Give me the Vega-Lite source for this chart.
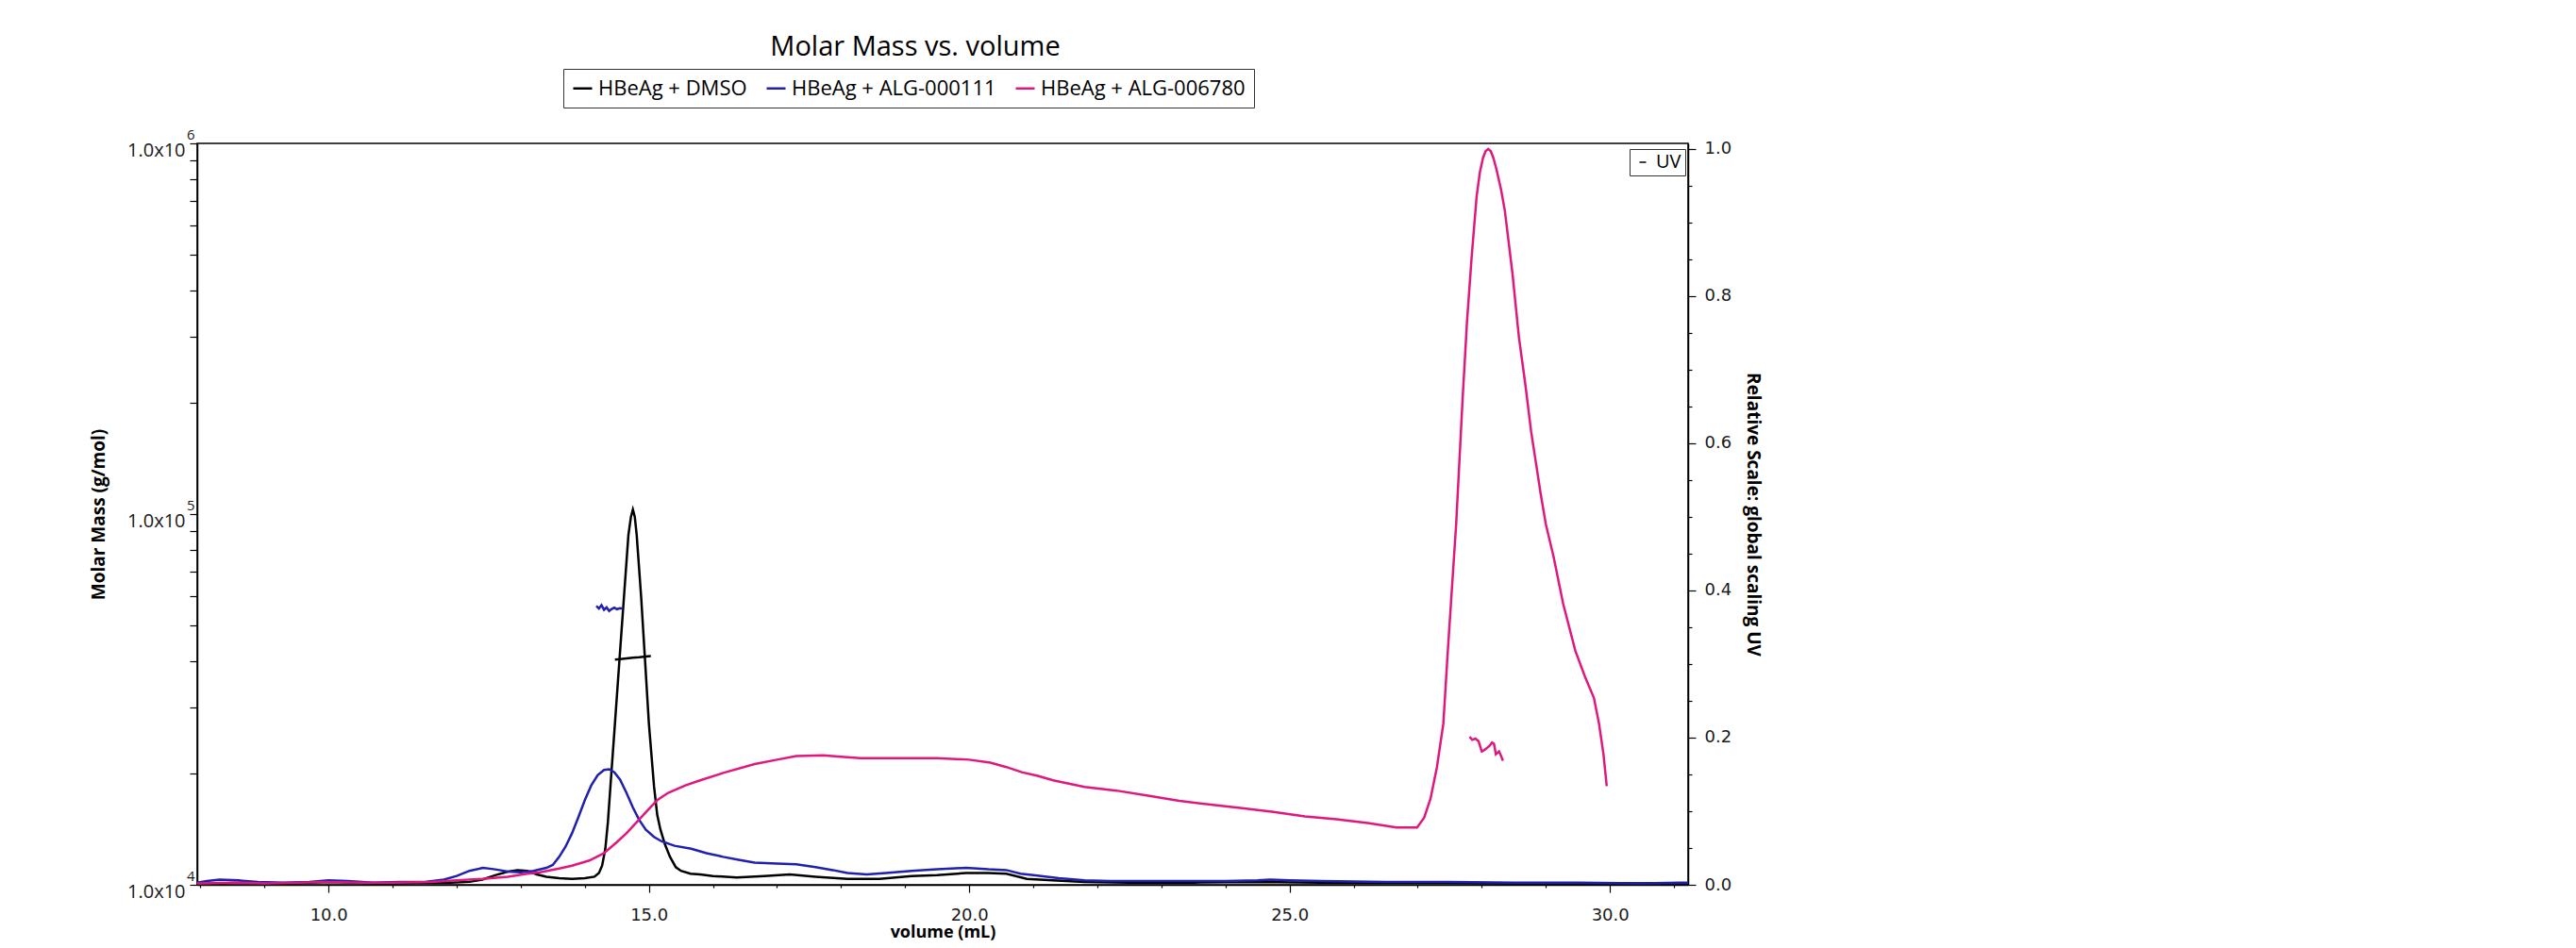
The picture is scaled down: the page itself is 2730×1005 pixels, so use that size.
{
  "$schema": "https://vega.github.io/schema/vega-lite/v6.json",
  "width": 1580,
  "height": 786,
  "autosize": {"type": "none"},
  "padding": {"left": 209, "top": 152, "right": 941, "bottom": 67},
  "background": "white",
  "config": {
    "view": {"stroke": "black", "strokeWidth": 1.5},
    "axis": {"grid": false, "domainColor": "black", "tickColor": "black", "labelColor": "#1a1a1a", "titleColor": "black", "domainWidth": 1.5, "tickWidth": 1.2}
  },
  "title": {"text": "Molar Mass vs. volume", "font": "Open Sans", "fontSize": 29, "fontWeight": "normal", "color": "black", "anchor": "middle", "frame": "group", "dx": -29, "offset": 8},
  "datasets": {
    "uv": [
      {"s": "HBeAg + DMSO", "v": 7.95, "u": 0.003}, {"s": "HBeAg + DMSO", "v": 8.3, "u": 0.002}, {"s": "HBeAg + DMSO", "v": 8.7, "u": 0.003}, {"s": "HBeAg + DMSO", "v": 9.2, "u": 0.002}, {"s": "HBeAg + DMSO", "v": 9.7, "u": 0.003}, {"s": "HBeAg + DMSO", "v": 10.0, "u": 0.004}, {"s": "HBeAg + DMSO", "v": 10.4, "u": 0.003}, {"s": "HBeAg + DMSO", "v": 10.9, "u": 0.002}, {"s": "HBeAg + DMSO", "v": 11.4, "u": 0.003}, {"s": "HBeAg + DMSO", "v": 11.9, "u": 0.003}, {"s": "HBeAg + DMSO", "v": 12.2, "u": 0.004}, {"s": "HBeAg + DMSO", "v": 12.4, "u": 0.007}, {"s": "HBeAg + DMSO", "v": 12.6, "u": 0.013}, {"s": "HBeAg + DMSO", "v": 12.8, "u": 0.018}, {"s": "HBeAg + DMSO", "v": 12.95, "u": 0.02}, {"s": "HBeAg + DMSO", "v": 13.1, "u": 0.019}, {"s": "HBeAg + DMSO", "v": 13.25, "u": 0.014}, {"s": "HBeAg + DMSO", "v": 13.4, "u": 0.011}, {"s": "HBeAg + DMSO", "v": 13.6, "u": 0.009}, {"s": "HBeAg + DMSO", "v": 13.8, "u": 0.008}, {"s": "HBeAg + DMSO", "v": 14.0, "u": 0.009}, {"s": "HBeAg + DMSO", "v": 14.15, "u": 0.011}, {"s": "HBeAg + DMSO", "v": 14.22, "u": 0.016}, {"s": "HBeAg + DMSO", "v": 14.27, "u": 0.026}, {"s": "HBeAg + DMSO", "v": 14.32, "u": 0.049}, {"s": "HBeAg + DMSO", "v": 14.36, "u": 0.085}, {"s": "HBeAg + DMSO", "v": 14.4, "u": 0.134}, {"s": "HBeAg + DMSO", "v": 14.47, "u": 0.219}, {"s": "HBeAg + DMSO", "v": 14.54, "u": 0.305}, {"s": "HBeAg + DMSO", "v": 14.61, "u": 0.39}, {"s": "HBeAg + DMSO", "v": 14.68, "u": 0.475}, {"s": "HBeAg + DMSO", "v": 14.72, "u": 0.5}, {"s": "HBeAg + DMSO", "v": 14.75, "u": 0.51}, {"s": "HBeAg + DMSO", "v": 14.78, "u": 0.5}, {"s": "HBeAg + DMSO", "v": 14.81, "u": 0.475}, {"s": "HBeAg + DMSO", "v": 14.88, "u": 0.39}, {"s": "HBeAg + DMSO", "v": 14.94, "u": 0.305}, {"s": "HBeAg + DMSO", "v": 15.0, "u": 0.219}, {"s": "HBeAg + DMSO", "v": 15.08, "u": 0.134}, {"s": "HBeAg + DMSO", "v": 15.13, "u": 0.095}, {"s": "HBeAg + DMSO", "v": 15.18, "u": 0.075}, {"s": "HBeAg + DMSO", "v": 15.25, "u": 0.055}, {"s": "HBeAg + DMSO", "v": 15.33, "u": 0.038}, {"s": "HBeAg + DMSO", "v": 15.42, "u": 0.024}, {"s": "HBeAg + DMSO", "v": 15.5, "u": 0.019}, {"s": "HBeAg + DMSO", "v": 15.65, "u": 0.015}, {"s": "HBeAg + DMSO", "v": 15.8, "u": 0.014}, {"s": "HBeAg + DMSO", "v": 16.0, "u": 0.012}, {"s": "HBeAg + DMSO", "v": 16.37, "u": 0.01}, {"s": "HBeAg + DMSO", "v": 16.8, "u": 0.012}, {"s": "HBeAg + DMSO", "v": 17.2, "u": 0.014}, {"s": "HBeAg + DMSO", "v": 17.6, "u": 0.011}, {"s": "HBeAg + DMSO", "v": 18.1, "u": 0.008}, {"s": "HBeAg + DMSO", "v": 18.6, "u": 0.008}, {"s": "HBeAg + DMSO", "v": 19.1, "u": 0.012}, {"s": "HBeAg + DMSO", "v": 19.5, "u": 0.013}, {"s": "HBeAg + DMSO", "v": 19.95, "u": 0.016}, {"s": "HBeAg + DMSO", "v": 20.3, "u": 0.016}, {"s": "HBeAg + DMSO", "v": 20.58, "u": 0.015}, {"s": "HBeAg + DMSO", "v": 20.9, "u": 0.008}, {"s": "HBeAg + DMSO", "v": 21.3, "u": 0.006}, {"s": "HBeAg + DMSO", "v": 21.8, "u": 0.004}, {"s": "HBeAg + DMSO", "v": 22.5, "u": 0.003}, {"s": "HBeAg + DMSO", "v": 23.5, "u": 0.003}, {"s": "HBeAg + DMSO", "v": 24.5, "u": 0.004}, {"s": "HBeAg + DMSO", "v": 25.5, "u": 0.003}, {"s": "HBeAg + DMSO", "v": 26.5, "u": 0.003}, {"s": "HBeAg + DMSO", "v": 27.5, "u": 0.003}, {"s": "HBeAg + DMSO", "v": 28.5, "u": 0.002}, {"s": "HBeAg + DMSO", "v": 29.5, "u": 0.002}, {"s": "HBeAg + DMSO", "v": 30.5, "u": 0.002}, {"s": "HBeAg + DMSO", "v": 31.2, "u": 0.002},
      {"s": "HBeAg + ALG-000111", "v": 7.95, "u": 0.003}, {"s": "HBeAg + ALG-000111", "v": 8.1, "u": 0.005}, {"s": "HBeAg + ALG-000111", "v": 8.3, "u": 0.007}, {"s": "HBeAg + ALG-000111", "v": 8.6, "u": 0.006}, {"s": "HBeAg + ALG-000111", "v": 8.9, "u": 0.004}, {"s": "HBeAg + ALG-000111", "v": 9.3, "u": 0.003}, {"s": "HBeAg + ALG-000111", "v": 9.7, "u": 0.004}, {"s": "HBeAg + ALG-000111", "v": 10.0, "u": 0.006}, {"s": "HBeAg + ALG-000111", "v": 10.3, "u": 0.005}, {"s": "HBeAg + ALG-000111", "v": 10.7, "u": 0.003}, {"s": "HBeAg + ALG-000111", "v": 11.1, "u": 0.004}, {"s": "HBeAg + ALG-000111", "v": 11.5, "u": 0.004}, {"s": "HBeAg + ALG-000111", "v": 11.8, "u": 0.007}, {"s": "HBeAg + ALG-000111", "v": 12.0, "u": 0.012}, {"s": "HBeAg + ALG-000111", "v": 12.2, "u": 0.019}, {"s": "HBeAg + ALG-000111", "v": 12.41, "u": 0.023}, {"s": "HBeAg + ALG-000111", "v": 12.6, "u": 0.021}, {"s": "HBeAg + ALG-000111", "v": 12.8, "u": 0.018}, {"s": "HBeAg + ALG-000111", "v": 13.0, "u": 0.017}, {"s": "HBeAg + ALG-000111", "v": 13.2, "u": 0.019}, {"s": "HBeAg + ALG-000111", "v": 13.4, "u": 0.023}, {"s": "HBeAg + ALG-000111", "v": 13.5, "u": 0.027}, {"s": "HBeAg + ALG-000111", "v": 13.6, "u": 0.038}, {"s": "HBeAg + ALG-000111", "v": 13.7, "u": 0.052}, {"s": "HBeAg + ALG-000111", "v": 13.8, "u": 0.07}, {"s": "HBeAg + ALG-000111", "v": 13.9, "u": 0.092}, {"s": "HBeAg + ALG-000111", "v": 14.0, "u": 0.115}, {"s": "HBeAg + ALG-000111", "v": 14.1, "u": 0.135}, {"s": "HBeAg + ALG-000111", "v": 14.2, "u": 0.149}, {"s": "HBeAg + ALG-000111", "v": 14.3, "u": 0.156}, {"s": "HBeAg + ALG-000111", "v": 14.38, "u": 0.157}, {"s": "HBeAg + ALG-000111", "v": 14.46, "u": 0.153}, {"s": "HBeAg + ALG-000111", "v": 14.55, "u": 0.143}, {"s": "HBeAg + ALG-000111", "v": 14.65, "u": 0.125}, {"s": "HBeAg + ALG-000111", "v": 14.75, "u": 0.105}, {"s": "HBeAg + ALG-000111", "v": 14.85, "u": 0.088}, {"s": "HBeAg + ALG-000111", "v": 14.95, "u": 0.075}, {"s": "HBeAg + ALG-000111", "v": 15.08, "u": 0.065}, {"s": "HBeAg + ALG-000111", "v": 15.2, "u": 0.059}, {"s": "HBeAg + ALG-000111", "v": 15.4, "u": 0.053}, {"s": "HBeAg + ALG-000111", "v": 15.66, "u": 0.049}, {"s": "HBeAg + ALG-000111", "v": 15.9, "u": 0.043}, {"s": "HBeAg + ALG-000111", "v": 16.16, "u": 0.038}, {"s": "HBeAg + ALG-000111", "v": 16.4, "u": 0.034}, {"s": "HBeAg + ALG-000111", "v": 16.65, "u": 0.03}, {"s": "HBeAg + ALG-000111", "v": 17.0, "u": 0.029}, {"s": "HBeAg + ALG-000111", "v": 17.3, "u": 0.028}, {"s": "HBeAg + ALG-000111", "v": 17.6, "u": 0.024}, {"s": "HBeAg + ALG-000111", "v": 17.87, "u": 0.02}, {"s": "HBeAg + ALG-000111", "v": 18.1, "u": 0.016}, {"s": "HBeAg + ALG-000111", "v": 18.4, "u": 0.014}, {"s": "HBeAg + ALG-000111", "v": 18.7, "u": 0.016}, {"s": "HBeAg + ALG-000111", "v": 19.1, "u": 0.019}, {"s": "HBeAg + ALG-000111", "v": 19.5, "u": 0.021}, {"s": "HBeAg + ALG-000111", "v": 19.95, "u": 0.023}, {"s": "HBeAg + ALG-000111", "v": 20.3, "u": 0.021}, {"s": "HBeAg + ALG-000111", "v": 20.58, "u": 0.02}, {"s": "HBeAg + ALG-000111", "v": 20.8, "u": 0.015}, {"s": "HBeAg + ALG-000111", "v": 21.0, "u": 0.013}, {"s": "HBeAg + ALG-000111", "v": 21.4, "u": 0.009}, {"s": "HBeAg + ALG-000111", "v": 21.8, "u": 0.006}, {"s": "HBeAg + ALG-000111", "v": 22.2, "u": 0.005}, {"s": "HBeAg + ALG-000111", "v": 23.0, "u": 0.005}, {"s": "HBeAg + ALG-000111", "v": 24.0, "u": 0.005}, {"s": "HBeAg + ALG-000111", "v": 24.5, "u": 0.006}, {"s": "HBeAg + ALG-000111", "v": 24.7, "u": 0.007}, {"s": "HBeAg + ALG-000111", "v": 25.0, "u": 0.006}, {"s": "HBeAg + ALG-000111", "v": 25.5, "u": 0.005}, {"s": "HBeAg + ALG-000111", "v": 26.5, "u": 0.004}, {"s": "HBeAg + ALG-000111", "v": 27.5, "u": 0.004}, {"s": "HBeAg + ALG-000111", "v": 28.5, "u": 0.003}, {"s": "HBeAg + ALG-000111", "v": 29.5, "u": 0.003}, {"s": "HBeAg + ALG-000111", "v": 30.5, "u": 0.002}, {"s": "HBeAg + ALG-000111", "v": 31.22, "u": 0.003},
      {"s": "HBeAg + ALG-006780", "v": 7.95, "u": 0.002}, {"s": "HBeAg + ALG-006780", "v": 8.5, "u": 0.003}, {"s": "HBeAg + ALG-006780", "v": 9.0, "u": 0.002}, {"s": "HBeAg + ALG-006780", "v": 10.0, "u": 0.004}, {"s": "HBeAg + ALG-006780", "v": 10.5, "u": 0.003}, {"s": "HBeAg + ALG-006780", "v": 11.0, "u": 0.003}, {"s": "HBeAg + ALG-006780", "v": 11.6, "u": 0.004}, {"s": "HBeAg + ALG-006780", "v": 12.0, "u": 0.006}, {"s": "HBeAg + ALG-006780", "v": 12.4, "u": 0.008}, {"s": "HBeAg + ALG-006780", "v": 12.8, "u": 0.011}, {"s": "HBeAg + ALG-006780", "v": 13.1, "u": 0.015}, {"s": "HBeAg + ALG-006780", "v": 13.3, "u": 0.017}, {"s": "HBeAg + ALG-006780", "v": 13.6, "u": 0.022}, {"s": "HBeAg + ALG-006780", "v": 13.8, "u": 0.026}, {"s": "HBeAg + ALG-006780", "v": 14.07, "u": 0.033}, {"s": "HBeAg + ALG-006780", "v": 14.3, "u": 0.043}, {"s": "HBeAg + ALG-006780", "v": 14.5, "u": 0.058}, {"s": "HBeAg + ALG-006780", "v": 14.65, "u": 0.07}, {"s": "HBeAg + ALG-006780", "v": 14.84, "u": 0.088}, {"s": "HBeAg + ALG-006780", "v": 15.0, "u": 0.103}, {"s": "HBeAg + ALG-006780", "v": 15.13, "u": 0.115}, {"s": "HBeAg + ALG-006780", "v": 15.3, "u": 0.125}, {"s": "HBeAg + ALG-006780", "v": 15.57, "u": 0.135}, {"s": "HBeAg + ALG-006780", "v": 15.8, "u": 0.142}, {"s": "HBeAg + ALG-006780", "v": 16.16, "u": 0.152}, {"s": "HBeAg + ALG-006780", "v": 16.65, "u": 0.164}, {"s": "HBeAg + ALG-006780", "v": 17.0, "u": 0.17}, {"s": "HBeAg + ALG-006780", "v": 17.3, "u": 0.175}, {"s": "HBeAg + ALG-006780", "v": 17.72, "u": 0.176}, {"s": "HBeAg + ALG-006780", "v": 18.0, "u": 0.174}, {"s": "HBeAg + ALG-006780", "v": 18.3, "u": 0.172}, {"s": "HBeAg + ALG-006780", "v": 19.0, "u": 0.172}, {"s": "HBeAg + ALG-006780", "v": 19.5, "u": 0.172}, {"s": "HBeAg + ALG-006780", "v": 20.0, "u": 0.17}, {"s": "HBeAg + ALG-006780", "v": 20.33, "u": 0.166}, {"s": "HBeAg + ALG-006780", "v": 20.58, "u": 0.16}, {"s": "HBeAg + ALG-006780", "v": 20.82, "u": 0.153}, {"s": "HBeAg + ALG-006780", "v": 21.07, "u": 0.148}, {"s": "HBeAg + ALG-006780", "v": 21.31, "u": 0.142}, {"s": "HBeAg + ALG-006780", "v": 21.8, "u": 0.133}, {"s": "HBeAg + ALG-006780", "v": 22.3, "u": 0.128}, {"s": "HBeAg + ALG-006780", "v": 22.79, "u": 0.121}, {"s": "HBeAg + ALG-006780", "v": 23.28, "u": 0.114}, {"s": "HBeAg + ALG-006780", "v": 23.77, "u": 0.109}, {"s": "HBeAg + ALG-006780", "v": 24.26, "u": 0.104}, {"s": "HBeAg + ALG-006780", "v": 24.75, "u": 0.099}, {"s": "HBeAg + ALG-006780", "v": 25.24, "u": 0.093}, {"s": "HBeAg + ALG-006780", "v": 25.73, "u": 0.089}, {"s": "HBeAg + ALG-006780", "v": 26.22, "u": 0.084}, {"s": "HBeAg + ALG-006780", "v": 26.67, "u": 0.078}, {"s": "HBeAg + ALG-006780", "v": 26.99, "u": 0.078}, {"s": "HBeAg + ALG-006780", "v": 27.1, "u": 0.091}, {"s": "HBeAg + ALG-006780", "v": 27.2, "u": 0.117}, {"s": "HBeAg + ALG-006780", "v": 27.3, "u": 0.16}, {"s": "HBeAg + ALG-006780", "v": 27.4, "u": 0.219}, {"s": "HBeAg + ALG-006780", "v": 27.47, "u": 0.318}, {"s": "HBeAg + ALG-006780", "v": 27.55, "u": 0.424}, {"s": "HBeAg + ALG-006780", "v": 27.6, "u": 0.49}, {"s": "HBeAg + ALG-006780", "v": 27.7, "u": 0.659}, {"s": "HBeAg + ALG-006780", "v": 27.77, "u": 0.766}, {"s": "HBeAg + ALG-006780", "v": 27.84, "u": 0.851}, {"s": "HBeAg + ALG-006780", "v": 27.92, "u": 0.936}, {"s": "HBeAg + ALG-006780", "v": 27.97, "u": 0.968}, {"s": "HBeAg + ALG-006780", "v": 28.02, "u": 0.988}, {"s": "HBeAg + ALG-006780", "v": 28.06, "u": 0.997}, {"s": "HBeAg + ALG-006780", "v": 28.1, "u": 1.0}, {"s": "HBeAg + ALG-006780", "v": 28.14, "u": 0.997}, {"s": "HBeAg + ALG-006780", "v": 28.18, "u": 0.988}, {"s": "HBeAg + ALG-006780", "v": 28.23, "u": 0.972}, {"s": "HBeAg + ALG-006780", "v": 28.3, "u": 0.945}, {"s": "HBeAg + ALG-006780", "v": 28.36, "u": 0.916}, {"s": "HBeAg + ALG-006780", "v": 28.48, "u": 0.83}, {"s": "HBeAg + ALG-006780", "v": 28.58, "u": 0.744}, {"s": "HBeAg + ALG-006780", "v": 28.68, "u": 0.68}, {"s": "HBeAg + ALG-006780", "v": 28.77, "u": 0.616}, {"s": "HBeAg + ALG-006780", "v": 28.92, "u": 0.531}, {"s": "HBeAg + ALG-006780", "v": 29.0, "u": 0.49}, {"s": "HBeAg + ALG-006780", "v": 29.12, "u": 0.446}, {"s": "HBeAg + ALG-006780", "v": 29.27, "u": 0.382}, {"s": "HBeAg + ALG-006780", "v": 29.46, "u": 0.318}, {"s": "HBeAg + ALG-006780", "v": 29.61, "u": 0.283}, {"s": "HBeAg + ALG-006780", "v": 29.75, "u": 0.254}, {"s": "HBeAg + ALG-006780", "v": 29.83, "u": 0.219}, {"s": "HBeAg + ALG-006780", "v": 29.9, "u": 0.177}, {"s": "HBeAg + ALG-006780", "v": 29.95, "u": 0.134}
    ],
    "mm": [
      {"s": "HBeAg + DMSO", "v": 14.47, "m": 40500}, {"s": "HBeAg + DMSO", "v": 14.55, "m": 40600}, {"s": "HBeAg + DMSO", "v": 14.65, "m": 40800}, {"s": "HBeAg + DMSO", "v": 14.75, "m": 41000}, {"s": "HBeAg + DMSO", "v": 14.85, "m": 41100}, {"s": "HBeAg + DMSO", "v": 14.95, "m": 41300}, {"s": "HBeAg + DMSO", "v": 15.03, "m": 41400},
      {"s": "HBeAg + ALG-000111", "v": 14.18, "m": 56500}, {"s": "HBeAg + ALG-000111", "v": 14.22, "m": 55600}, {"s": "HBeAg + ALG-000111", "v": 14.26, "m": 56800}, {"s": "HBeAg + ALG-000111", "v": 14.3, "m": 55200}, {"s": "HBeAg + ALG-000111", "v": 14.34, "m": 56000}, {"s": "HBeAg + ALG-000111", "v": 14.38, "m": 54800}, {"s": "HBeAg + ALG-000111", "v": 14.42, "m": 55500}, {"s": "HBeAg + ALG-000111", "v": 14.46, "m": 55900}, {"s": "HBeAg + ALG-000111", "v": 14.5, "m": 55400}, {"s": "HBeAg + ALG-000111", "v": 14.55, "m": 55700}, {"s": "HBeAg + ALG-000111", "v": 14.59, "m": 55600},
      {"s": "HBeAg + ALG-006780", "v": 27.81, "m": 25100}, {"s": "HBeAg + ALG-006780", "v": 27.85, "m": 24600}, {"s": "HBeAg + ALG-006780", "v": 27.9, "m": 24800}, {"s": "HBeAg + ALG-006780", "v": 27.95, "m": 24400}, {"s": "HBeAg + ALG-006780", "v": 28.0, "m": 22900}, {"s": "HBeAg + ALG-006780", "v": 28.04, "m": 23100}, {"s": "HBeAg + ALG-006780", "v": 28.07, "m": 23300}, {"s": "HBeAg + ALG-006780", "v": 28.12, "m": 23700}, {"s": "HBeAg + ALG-006780", "v": 28.16, "m": 24200}, {"s": "HBeAg + ALG-006780", "v": 28.19, "m": 24000}, {"s": "HBeAg + ALG-006780", "v": 28.22, "m": 22500}, {"s": "HBeAg + ALG-006780", "v": 28.27, "m": 22900}, {"s": "HBeAg + ALG-006780", "v": 28.3, "m": 22300}, {"s": "HBeAg + ALG-006780", "v": 28.33, "m": 21600}
    ]
  },
  "encoding": {
    "x": {
      "field": "v", "type": "quantitative",
      "scale": {"domain": [7.95, 31.22], "nice": false, "zero": false},
      "axis": {
        "orient": "bottom",
        "values": [8, 9, 10, 11, 12, 13, 14, 15, 16, 17, 18, 19, 20, 21, 22, 23, 24, 25, 26, 27, 28, 29, 30, 31],
        "labelExpr": "datum.value % 5 == 0 ? format(datum.value, '.1f') : ''",
        "tickSize": {"condition": {"test": "datum.value % 5 == 0", "value": 8}, "value": 3},
        "labelFont": "DejaVu Sans", "labelFontSize": 18, "labelPadding": 15,
        "labelOverlap": false, "labelFlush": false, "labelBound": false,
        "title": "volume (mL)", "titleFont": "Open Sans", "titleFontSize": 18, "titleFontWeight": "bold", "titlePadding": 0
      }
    }
  },
  "layer": [
    {
      "data": {"name": "uv"},
      "mark": {"type": "line", "strokeWidth": 2.5, "clip": true},
      "encoding": {
        "y": {
          "field": "u", "type": "quantitative",
          "scale": {"domain": [0, 1.0075], "nice": false, "zero": false},
          "axis": {
            "orient": "right",
            "values": [0, 0.05, 0.1, 0.15, 0.2, 0.25, 0.3, 0.35, 0.4, 0.45, 0.5, 0.55, 0.6, 0.65, 0.7, 0.75, 0.8, 0.85, 0.9, 0.95, 1.0],
            "labelExpr": "abs(datum.value*5 - round(datum.value*5)) < 0.001 ? format(datum.value, '.1f') : ''",
            "tickSize": {"condition": {"test": "abs(datum.value*5 - round(datum.value*5)) < 0.001", "value": 8}, "value": 4},
            "labelFont": "DejaVu Sans", "labelFontSize": 18, "labelPadding": 9,
            "labelOverlap": false, "labelFlush": false, "labelBound": false,
            "title": "Relative Scale: global scaling UV", "titleFont": "Open Sans", "titleFontSize": 19, "titleFontWeight": "bold", "titlePadding": 13
          }
        },
        "color": {
          "field": "s", "type": "nominal",
          "scale": {"domain": ["HBeAg + DMSO", "HBeAg + ALG-000111", "HBeAg + ALG-006780"], "range": ["#000000", "#1f1fb0", "#e0187e"]},
          "legend": {
            "orient": "none", "legendX": 388, "legendY": -79, "direction": "horizontal", "title": null,
            "strokeColor": "#333333", "padding": 9,
            "labelFont": "Open Sans", "labelFontSize": 22, "labelColor": "black", "labelLimit": 400,
            "symbolType": "stroke", "symbolSize": 400, "symbolStrokeWidth": 2.5, "labelOffset": 5, "columnPadding": 15
          }
        },
        "opacity": {
          "datum": "UV", "type": "nominal",
          "scale": {"domain": ["UV"], "range": [1]},
          "legend": {
            "orient": "none", "legendX": 1518, "legendY": 6, "title": null,
            "strokeColor": "#333333", "padding": 4,
            "labelFont": "Open Sans", "labelFontSize": 20, "labelColor": "black",
            "symbolType": "stroke", "symbolSize": 49, "symbolStrokeColor": "black", "symbolStrokeWidth": 1.5, "labelOffset": 4
          }
        }
      }
    },
    {
      "data": {"name": "mm"},
      "mark": {"type": "line", "strokeWidth": 2.5},
      "encoding": {
        "y": {
          "field": "m", "type": "quantitative",
          "scale": {"type": "log", "domain": [10000, 1000000], "nice": false},
          "axis": {
            "orient": "left",
            "values": [10000, 20000, 30000, 40000, 50000, 60000, 70000, 80000, 90000, 100000, 200000, 300000, 400000, 500000, 600000, 700000, 800000, 900000, 1000000],
            "labelExpr": "datum.value == 10000 || datum.value == 100000 || datum.value == 1000000 ? '1.0x10' : ''",
            "tickSize": 8, "labelPadding": 5, "labelOffset": 7,
            "labelFont": "Open Sans", "labelFontSize": 20,
            "labelOverlap": false, "labelFlush": false, "labelBound": false,
            "title": "Molar Mass (g/mol)", "titleFont": "Open Sans", "titleFontSize": 19, "titleFontWeight": "bold", "titlePadding": 20
          }
        },
        "color": {"field": "s", "type": "nominal"}
      }
    },
    {
      "data": {"name": "mm"},
      "mark": {"type": "line", "opacity": 0},
      "encoding": {
        "y": {
          "field": "m", "type": "quantitative",
          "scale": {"type": "log", "domain": [10000, 1000000], "nice": false},
          "axis": {
            "orient": "left",
            "values": [10000, 100000, 1000000],
            "labelExpr": "datum.value == 10000 ? '4' : datum.value == 100000 ? '5' : '6'",
            "ticks": false, "tickSize": 0, "domain": false, "labelPadding": 3, "labelOffset": -10,
            "labelFont": "Open Sans", "labelFontSize": 15,
            "labelOverlap": false, "labelFlush": false, "labelBound": false,
            "title": null
          }
        }
      }
    }
  ],
  "resolve": {"scale": {"y": "independent"}}
}
